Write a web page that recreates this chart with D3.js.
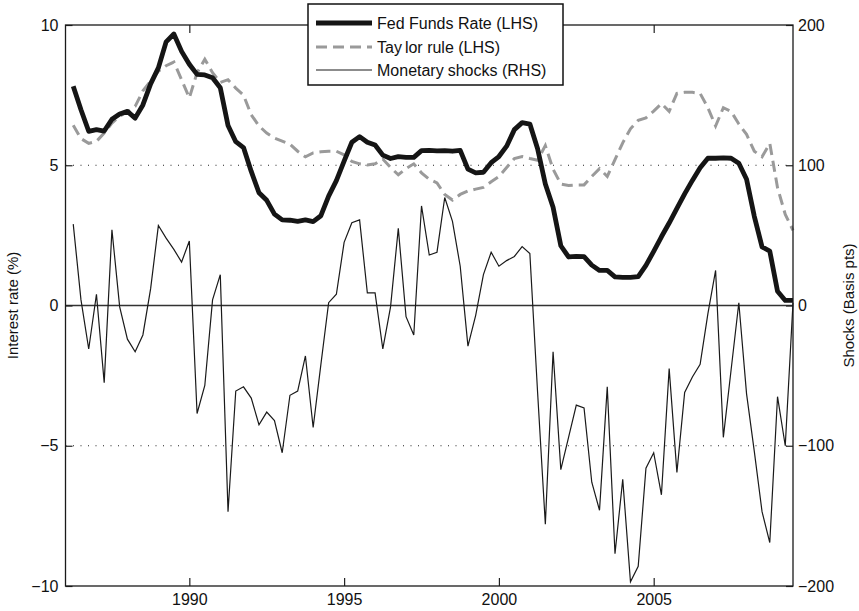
<!DOCTYPE html>
<html>
<head>
<meta charset="utf-8">
<script src="https://cdn.jsdelivr.net/npm/d3@7"></script>
<style>
  body { margin: 0; background: #fff; }
  text { font-family: "Liberation Sans", Arial, Helvetica, sans-serif; fill: #111; }
</style>
</head>
<body>
<svg id="chart" width="859" height="611"></svg>
<script>
// Quarterly observations, first one plotted at 1986.25, step 0.25
const firstQuarter = 1986.25;
const quarterStep = 0.25;

// Effective Fed Funds rate, percent (left axis)
const fedFunds = [
  7.82, 6.98, 6.21,
  6.27, 6.22, 6.64, 6.83,
  6.92, 6.68, 7.15, 7.90,
  8.47, 9.40, 9.68, 9.06,
  8.60, 8.24, 8.22, 8.12,
  7.76, 6.42, 5.84, 5.63,
  4.78, 4.02, 3.75, 3.26,
  3.05, 3.04, 3.00, 3.05,
  2.99, 3.20, 3.90, 4.45,
  5.15, 5.82, 6.02, 5.82,
  5.72, 5.36, 5.24, 5.31,
  5.28, 5.28, 5.52, 5.53,
  5.51, 5.52, 5.50, 5.53,
  4.86, 4.73, 4.75, 5.09,
  5.31, 5.68, 6.27, 6.52,
  6.47, 5.59, 4.33, 3.50,
  2.13, 1.73, 1.75, 1.74,
  1.44, 1.25, 1.25, 1.02,
  1.00, 1.00, 1.03, 1.43,
  1.93, 2.45, 2.94, 3.46,
  3.98, 4.46, 4.91, 5.25,
  5.25, 5.26, 5.25, 5.07,
  4.50, 3.18, 2.09, 1.94,
  0.51, 0.18, 0.18
];

// Taylor rule prescription, percent (left axis)
const taylorRule = [
  6.43, 5.95, 5.78,
  5.85, 6.15, 6.50, 6.75,
  6.91, 7.10, 7.65, 8.00,
  8.35, 8.55, 8.68, 8.05,
  7.40, 8.30, 8.78, 8.30,
  7.95, 8.05, 7.75, 7.50,
  6.80, 6.40, 6.15, 5.97,
  5.86, 5.75, 5.50, 5.30,
  5.44, 5.48, 5.50, 5.50,
  5.37, 5.14, 5.05, 5.01,
  5.05, 5.22, 4.92, 4.66,
  4.88, 5.05, 4.73, 4.50,
  4.37, 3.96, 3.76, 3.96,
  4.08, 4.15, 4.21, 4.41,
  4.60, 4.92, 5.24, 5.31,
  5.24, 5.18, 5.70, 4.86,
  4.33, 4.28, 4.30, 4.30,
  4.60, 4.88, 4.60, 5.20,
  5.80, 6.30, 6.60, 6.69,
  6.93, 7.20, 6.92, 7.56,
  7.60, 7.60, 7.56, 7.05,
  6.40, 7.05, 6.92, 6.47,
  6.10, 5.50, 5.30, 5.78,
  4.20, 3.25, 2.68
];

// Monetary policy shocks, basis points (right axis)
const shocks = [
  58, 4, -31,
  8, -55, 54, -1,
  -24, -33, -21, 12,
  57, 48, 40, 31,
  46, -77, -57, 4,
  22, -147, -61, -58,
  -66, -85, -76, -82,
  -105, -64, -61, -36,
  -87, -42, 2, 8,
  45, 59, 61, 9,
  9, -31, -1, 55,
  -8, -21, 71, 36,
  38, 77, 60, 28,
  -29, -7, 22, 38,
  28, 32, 35, 42,
  37, -62, -156, -33,
  -117, -94, -71, -73,
  -126, -146, -58, -177,
  -124, -197, -186, -116,
  -105, -135, -45, -119,
  -62, -51, -42, -6,
  25, -94, -46, 2,
  -63, -104, -147, -169,
  -65, -100, 2
];

const yearTicks = [1990, 1995, 2000, 2005];
const leftTicks = [-10, -5, 0, 5, 10];
const rightTicks = [-200, -100, 0, 100, 200];
const gridValues = [-5, 5];

// legend labels, split where the typeset label shows a small gap
const seriesNames = [
  ["Fed Funds Rate (LHS)"],
  ["Tay", "lor rule (LHS)"],
  ["Monetary", "shocks (RHS)"]
];
const leftTitle = "Interest rate (%)";
const rightTitle = "Shocks (Basis pts)";

const svg = d3.select("#chart");
const plot = { left: 65.5, right: 793, top: 25, bottom: 586 };

const x = d3.scaleLinear().domain([1986, 2009.5]).range([plot.left, plot.right]);
const yL = d3.scaleLinear().domain([-10, 10]).range([plot.bottom, plot.top]);
const yR = d3.scaleLinear().domain([-200, 200]).range([plot.bottom, plot.top]);

const t = i => firstQuarter + i * quarterStep;

// dotted grid at +/-5
svg.append("g").selectAll("line").data(gridValues).join("line")
  .attr("x1", plot.left).attr("x2", plot.right)
  .attr("y1", d => yL(d)).attr("y2", d => yL(d))
  .attr("stroke", "#222").attr("stroke-width", 1)
  .attr("stroke-dasharray", "1,6.5");

// zero line
svg.append("line")
  .attr("x1", plot.left).attr("x2", plot.right)
  .attr("y1", yL(0)).attr("y2", yL(0))
  .attr("stroke", "#333").attr("stroke-width", 1.6);

const lineL = d3.line().x((d, i) => x(t(i))).y(d => yL(d));
const lineR = d3.line().x((d, i) => x(t(i))).y(d => yR(d));

svg.append("path").datum(shocks)
  .attr("d", lineR).attr("fill", "none")
  .attr("stroke", "#1a1a1a").attr("stroke-width", 1.2)
  .attr("stroke-linejoin", "miter");

svg.append("path").datum(taylorRule)
  .attr("d", lineL).attr("fill", "none")
  .attr("stroke", "#9a9a9a").attr("stroke-width", 3)
  .attr("stroke-dasharray", "11,6");

svg.append("path").datum(fedFunds)
  .attr("d", lineL).attr("fill", "none")
  .attr("stroke", "#151515").attr("stroke-width", 4.8)
  .attr("stroke-linejoin", "round");

// axes
const tickFont = "16px";
const titleFont = "15px";
const styleAxis = g => {
  g.select(".domain").remove();
  g.selectAll(".tick line").attr("stroke", "#222").attr("stroke-width", 1.2);
  g.selectAll(".tick text").style("font-size", tickFont).attr("fill", "#111");
};

svg.append("g").attr("transform", `translate(0,${plot.bottom})`)
  .call(d3.axisBottom(x).tickValues(yearTicks).tickFormat(d3.format("d"))
    .tickSizeInner(-8).tickSizeOuter(0).tickPadding(8))
  .call(styleAxis);

svg.append("g").attr("transform", `translate(0,${plot.top})`)
  .call(d3.axisTop(x).tickValues(yearTicks).tickFormat("")
    .tickSizeInner(-8).tickSizeOuter(0))
  .call(styleAxis);

svg.append("g").attr("transform", `translate(${plot.left},0)`)
  .call(d3.axisLeft(yL).tickValues(leftTicks).tickFormat(d3.format("d"))
    .tickSizeInner(-7).tickSizeOuter(0).tickPadding(7))
  .call(styleAxis);

svg.append("g").attr("transform", `translate(${plot.right},0)`)
  .call(d3.axisRight(yR).tickValues(rightTicks).tickFormat(d3.format("d"))
    .tickSizeInner(-7).tickSizeOuter(0).tickPadding(5))
  .call(styleAxis);

// frame
svg.append("rect")
  .attr("x", plot.left).attr("y", plot.top)
  .attr("width", plot.right - plot.left).attr("height", plot.bottom - plot.top)
  .attr("fill", "none").attr("stroke", "#1a1a1a").attr("stroke-width", 1.3);

// axis titles
svg.append("text")
  .attr("transform", `translate(14,${(plot.top + plot.bottom) / 2}) rotate(-90)`)
  .attr("text-anchor", "middle").attr("dominant-baseline", "middle")
  .style("font-size", titleFont).text(leftTitle);

svg.append("text")
  .attr("transform", `translate(850,${(plot.top + plot.bottom) / 2}) rotate(-90)`)
  .attr("text-anchor", "middle").attr("dominant-baseline", "middle")
  .style("font-size", titleFont).text(rightTitle);

// legend
const legend = svg.append("g");
const lg = { x: 308, y: 4, w: 255, h: 81 };
legend.append("rect")
  .attr("x", lg.x).attr("y", lg.y).attr("width", lg.w).attr("height", lg.h)
  .attr("fill", "#fff").attr("stroke", "#111").attr("stroke-width", 1.5);

const legendStyles = [
  { stroke: "#151515", width: 4.8, dash: null },
  { stroke: "#9a9a9a", width: 3, dash: "11,6" },
  { stroke: "#1a1a1a", width: 1.2, dash: null }
];
const rowY = [23, 47, 70];
seriesNames.forEach((parts, i) => {
  const s = legendStyles[i];
  legend.append("line")
    .attr("x1", 316).attr("x2", 372).attr("y1", rowY[i]).attr("y2", rowY[i])
    .attr("stroke", s.stroke).attr("stroke-width", s.width)
    .attr("stroke-dasharray", s.dash);
  const txt = legend.append("text")
    .attr("x", 377).attr("y", rowY[i]).attr("dy", "0.35em")
    .style("font-size", tickFont);
  parts.forEach((p, j) => {
    txt.append("tspan").attr("dx", j === 0 ? 0 : (i === 1 ? 3 : 4)).text(p);
  });
});
</script>
</body>
</html>
